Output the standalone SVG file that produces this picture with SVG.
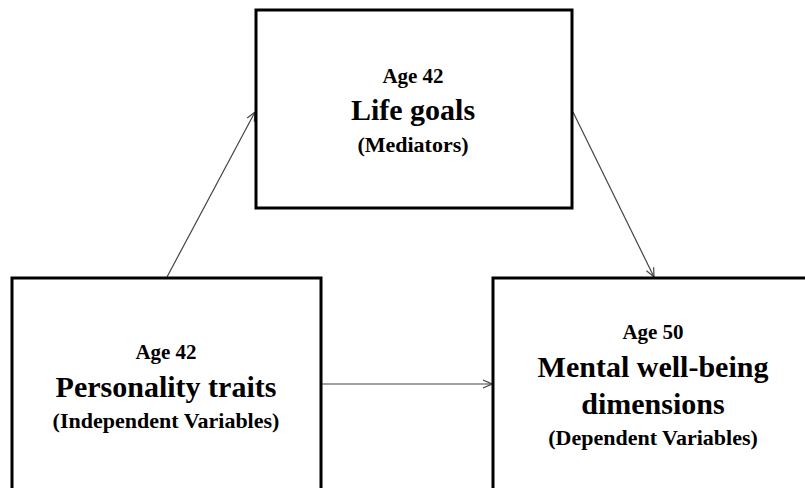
<svg xmlns="http://www.w3.org/2000/svg" width="805" height="488" viewBox="0 0 805 488">
<style>
.box{fill:#fff;stroke:#000;stroke-width:3}
.t{font-family:"Liberation Serif","Times New Roman",serif;font-weight:bold;fill:#000;text-anchor:middle}
.age{font-size:21px}
.main{font-size:30px}
.sub{font-size:22px}
.conn{stroke:#444;stroke-width:1.2;fill:none;marker-end:url(#arr)}
</style>
<defs>
<marker id="arr" viewBox="0 0 10 10" refX="10" refY="5" markerWidth="10" markerHeight="10" markerUnits="userSpaceOnUse" orient="auto">
<path d="M1,1 L10,5 L1,9" fill="none" stroke="#444" stroke-width="1.2"/>
</marker>
</defs>
<rect width="805" height="488" fill="#fff"/>
<g id="connectors">
<line class="conn" x1="167" y1="277" x2="255" y2="112"/>
<line class="conn" x1="573" y1="112" x2="654" y2="277"/>
<line class="conn" x1="321" y1="384" x2="492" y2="384"/>
</g>
<g id="node-life-goals">
<rect class="box" x="256" y="10" width="316" height="198"/>
<text class="t age" x="413" y="83">Age 42</text>
<text class="t main" x="413" y="120">Life goals</text>
<text class="t sub" x="413" y="152">(Mediators)</text>
</g>
<g id="node-personality">
<rect class="box" x="12" y="278" width="309" height="230"/>
<text class="t age" x="166" y="359">Age 42</text>
<text class="t main" x="166" y="397">Personality traits</text>
<text class="t sub" x="166" y="428">(Independent Variables)</text>
</g>
<g id="node-wellbeing">
<rect class="box" x="493" y="278" width="330" height="230"/>
<text class="t age" x="653" y="339">Age 50</text>
<text class="t main" x="653" y="377">Mental well-being</text>
<text class="t main" x="653" y="414">dimensions</text>
<text class="t sub" x="653" y="445">(Dependent Variables)</text>
</g>
</svg>
